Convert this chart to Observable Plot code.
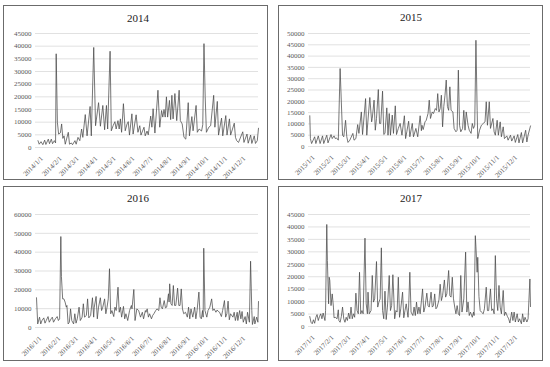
<!DOCTYPE html>
<html><head><meta charset="utf-8">
<script src="https://cdn.jsdelivr.net/npm/d3@7"></script>
<script src="https://cdn.jsdelivr.net/npm/@observablehq/plot@0.6"></script>
<style>
body{margin:0;background:#fff;}
#root{position:relative;width:550px;height:367px;overflow:hidden;font-family:"Liberation Serif","Times New Roman",serif;}
.frame{position:absolute;border:1px solid #6b6b6b;box-sizing:border-box;}
.title{position:absolute;font-size:11px;color:#222;transform:translate(-50%,-50%);white-space:nowrap;font-family:"Liberation Serif",serif;}
.chart{position:absolute;}
</style></head><body><div id="root"></div>
<script>
const years = [2014, 2015, 2016, 2017];
const yMaxes = [45000, 50000, 60000, 45000];

const days2014 = [0,2,5,8,11,13,17,19,22,24,27,29,30,32,34,37,39,41,43,45,50,52,55,57,61,63,66,69,72,74,78,81,86,88,92,95,100,103,107,110,113,115,119,121,124,127,129,132,134,136,138,141,144,147,149,151,155,157,162,165,168,170,175,177,180,182,186,188,190,193,198,201,204,206,208,210,212,214,217,219,221,223,226,229,233,235,238,241,244,248,250,254,256,261,263,266,270,272,274,276,278,282,285,290,292,296,298,303,305,310,312,316,318,324,326,328,331,338,340,345,347,351,353,357,359,362,364];
const values2014 = [2700,1300,2300,1100,2900,1200,3300,1500,3300,1500,2700,1800,37000,10000,5300,5800,9300,3600,4600,1300,6000,1300,1800,1100,2700,1300,4000,2700,7300,4000,13000,4600,16200,4600,39500,8600,17700,8400,16600,7000,16600,7300,38000,6600,8600,10200,7300,10600,7300,11300,6000,17300,6600,9300,10200,4900,13300,5300,12900,6000,8600,4900,8000,4600,6500,5000,12400,8000,15300,5700,22600,8000,14600,12000,15000,12000,20000,12000,18600,11000,20600,11300,21300,10600,22600,10600,9300,4000,3300,17700,4600,12200,6600,16600,6000,7300,6500,9000,41000,20000,6000,8000,8600,20600,8000,18200,4900,11600,4600,12600,4900,11300,4900,9600,4000,2700,2000,6200,2000,5300,1700,4900,1600,4600,1600,2700,7600];

const days2015 = [0,1,3,8,10,14,17,21,23,28,30,35,37,40,42,44,47,50,54,56,59,61,63,66,71,73,76,79,81,85,87,92,94,99,102,103,106,108,110,113,115,117,120,122,124,127,129,131,133,136,138,141,143,146,149,152,156,158,160,163,165,169,171,175,178,182,184,185,187,190,192,195,197,199,202,204,207,209,211,213,215,217,219,221,223,225,227,229,231,233,236,238,241,243,245,247,249,252,254,256,258,261,263,266,268,270,272,274,276,277,280,283,286,289,291,293,296,298,302,304,306,309,311,314,316,319,321,325,327,331,333,337,339,343,345,349,351,356,358,360,364];
const values2015 = [13600,3500,1300,4300,1300,4700,1300,4700,1300,5000,1600,5300,3500,4700,3500,3800,2800,34500,5000,4300,11600,4300,1800,2800,5800,2800,3500,9700,5800,15300,5300,21200,5000,21700,10900,12400,20500,7200,12400,25200,10200,10200,24500,5300,5800,17100,5000,14600,5000,13900,5800,18000,5300,8000,10200,5000,13600,3500,6500,11200,4300,10200,4300,8000,4300,13600,7000,9400,7500,10900,11600,14600,20500,12400,15300,14600,16800,16000,23400,15300,16800,22700,8700,17700,22700,29400,17700,16000,26400,16000,15300,8000,6500,7200,33800,9400,6500,8000,16000,7200,15300,9400,7200,5800,10200,8000,9400,47000,16000,3500,7200,9400,10200,10900,19800,9400,19800,8000,12400,6500,5000,11600,5000,10900,4300,8700,3500,4700,2800,5000,2400,4700,1800,5300,1600,6200,1600,7200,2000,5000,9100];

const days2016 = [0,2,5,7,9,12,14,16,19,21,24,26,28,31,34,36,38,40,41,43,45,47,49,50,52,54,56,58,61,63,65,67,70,72,75,77,79,82,84,86,89,92,94,95,98,100,102,105,107,109,112,114,116,118,120,122,124,127,129,131,134,136,138,140,143,145,147,150,153,156,157,160,162,165,168,171,174,176,179,180,182,184,186,189,191,193,196,198,201,203,205,207,210,212,214,217,218,219,221,223,225,227,229,232,234,236,238,240,242,245,248,250,252,254,257,260,262,264,267,269,271,273,274,275,277,280,282,285,288,290,292,295,297,299,301,304,306,309,311,313,315,317,319,323,325,327,330,331,334,336,338,340,343,345,347,350,352,354,355,358,359,362,364,365];
const values2016 = [15800,1900,5500,1900,3700,5100,2300,3700,5800,2800,4600,5500,2800,4600,5800,3700,4600,48300,27000,15200,15200,13500,10800,11700,1900,2800,9900,3700,1900,7300,2300,4600,10800,3700,5500,12600,5500,6400,15200,5100,6400,15800,5500,10800,16500,4600,10800,15800,9000,10800,15200,7300,10800,15200,31200,7300,9000,5800,10800,9000,21400,8100,10800,5500,11200,4600,7300,3700,9000,11700,9900,20200,3700,9900,9000,5500,8100,4600,9000,8100,9900,5500,7300,4600,6400,7300,9000,9900,9000,15800,10800,9900,14300,10400,10800,17900,13500,23200,12600,11700,22300,11700,11700,20900,11700,11700,20500,9900,7300,8100,5500,10800,4600,9900,5500,10800,4600,9000,18800,5500,4600,9000,5500,42100,9000,5500,9000,10800,15200,9000,9900,8100,9300,8500,8100,5800,9000,14300,5500,7300,14000,4100,7300,5500,8100,3700,8100,3700,9000,4600,8500,2800,5800,1900,8100,2800,35200,9000,1600,5800,1900,5500,2800,13800];

const days2017 = [0,2,4,6,8,10,12,14,16,18,20,22,25,26,28,29,31,32,33,35,37,39,40,42,45,47,48,50,52,54,56,58,60,62,64,66,68,70,72,74,76,78,80,82,84,86,88,91,93,95,96,98,101,103,105,107,110,112,114,116,118,120,122,124,126,128,131,133,135,137,140,142,144,146,148,150,153,155,157,159,162,163,165,167,170,172,174,176,178,180,182,186,188,190,193,195,197,200,202,204,206,208,210,213,215,217,219,222,224,226,229,231,233,235,237,239,241,243,245,247,249,251,254,257,259,261,263,265,268,270,271,273,274,276,277,279,281,283,286,288,291,293,295,298,300,302,304,306,308,310,312,314,316,319,321,323,326,328,330,333,335,337,339,342,344,346,349,351,353,355,358,360,363,364];
const values2017 = [4000,1700,1100,2700,1300,3700,4800,2400,4000,5100,3100,5400,2400,6400,41000,26500,9100,19800,18500,8400,13100,7800,3500,3700,3100,6700,2400,1700,4000,7800,3100,1700,3700,2400,5400,3100,7800,3100,5100,3700,13400,6400,5100,21800,5100,6400,5100,35500,9100,5100,13800,5100,6400,20500,9800,11100,26100,7800,9800,11100,31600,6400,3100,14200,2800,7800,20500,6400,8400,20800,3100,6400,5800,19800,3700,7100,13800,3500,6400,9100,3700,7800,21800,5800,4400,7800,4400,9800,5100,7800,5100,15100,5800,7800,13400,8400,7800,13800,7800,8400,13100,7100,7800,10700,17000,10400,12400,18700,11800,13100,22500,12400,11800,19800,11100,7800,5100,8400,5100,4400,20500,5800,11100,29900,5800,9800,4400,5800,3700,5800,4400,36500,32000,21800,27800,12000,6400,5800,5100,7100,15800,6400,6400,15100,6400,7100,5100,28500,11100,6400,16500,7800,5100,14500,4400,5800,4000,3100,1400,5800,2400,5800,1800,5100,1800,3100,1100,5100,1800,3700,1800,3100,19100,8000];

const yTickStep = [5000, 5000, 10000, 5000];

const seriesDays = [days2014, days2015, days2016, days2017];
const seriesValues = [values2014, values2015, values2016, values2017];

// layout
const layout = [
  {left: 3,   top: 5,   w: 265, h: 175, tx: 138, ty: 18,  ml: 32, mr: 10, mt: 28, mb: 33, xr: [34.5, 255]},
  {left: 278, top: 5,   w: 265, h: 175, tx: 411, ty: 17,  ml: 30, mr: 13, mt: 28, mb: 34, xr: [31.3, 252]},
  {left: 3,   top: 186, w: 265, h: 175, tx: 138, ty: 198, ml: 32, mr: 10, mt: 28, mb: 34, xr: [33, 255]},
  {left: 278, top: 186, w: 265, h: 175, tx: 411, ty: 198, ml: 30, mr: 13, mt: 28, mb: 35, xr: [31.3, 252]}
];

const root = document.getElementById("root");

years.forEach((year, i) => {
  const L = layout[i];
  const data = seriesDays[i].map((d, j) => ({date: new Date(Date.UTC(year, 0, 1 + d)), value: seriesValues[i][j]}));
  const yTicks = d3.range(0, yMaxes[i] + 1, yTickStep[i]);
  const monthTicks = d3.range(12).map(m => new Date(Date.UTC(year, m, 1)));
  const fmt = d => `${d.getUTCFullYear()}/${d.getUTCMonth() + 1}/${d.getUTCDate()}`;

  const frame = document.createElement("div");
  frame.className = "frame";
  Object.assign(frame.style, {left: L.left + "px", top: L.top + "px", width: L.w + "px", height: L.h + "px"});
  root.appendChild(frame);

  const chart = Plot.plot({
    width: L.w, height: L.h,
    marginLeft: L.ml, marginRight: L.mr, marginTop: L.mt, marginBottom: L.mb,
    style: {fontFamily: '"Liberation Serif", serif', fontSize: "7px", color: "#595959", background: "transparent", overflow: "visible"},
    x: {type: "utc", domain: [new Date(Date.UTC(year, 0, 1)), new Date(Date.UTC(year, 11, 31))], range: L.xr, axis: null},
    y: {domain: [0, yMaxes[i]], ticks: yTicks, tickSize: 0, tickPadding: 4, tickFormat: d => String(d), label: null},
    marks: [
      Plot.ruleY(yTicks, {stroke: "#d9d9d9", strokeWidth: 0.8}),
      Plot.line(data, {x: "date", y: "value", stroke: "#4a4a4a", strokeWidth: 0.75}),
      Plot.text(monthTicks, {x: d => d, text: fmt, frameAnchor: "bottom", rotate: -45, textAnchor: "end", lineAnchor: "top", dx: 2, dy: 8, fill: "#595959", fontSize: 7})
    ]
  });
  chart.classList.add("chart");
  Object.assign(chart.style, {left: L.left + "px", top: L.top + "px", position: "absolute"});
  root.appendChild(chart);

  const t = document.createElement("div");
  t.className = "title";
  t.textContent = String(year);
  Object.assign(t.style, {left: L.tx + "px", top: L.ty + "px"});
  root.appendChild(t);
});
</script></body></html>
